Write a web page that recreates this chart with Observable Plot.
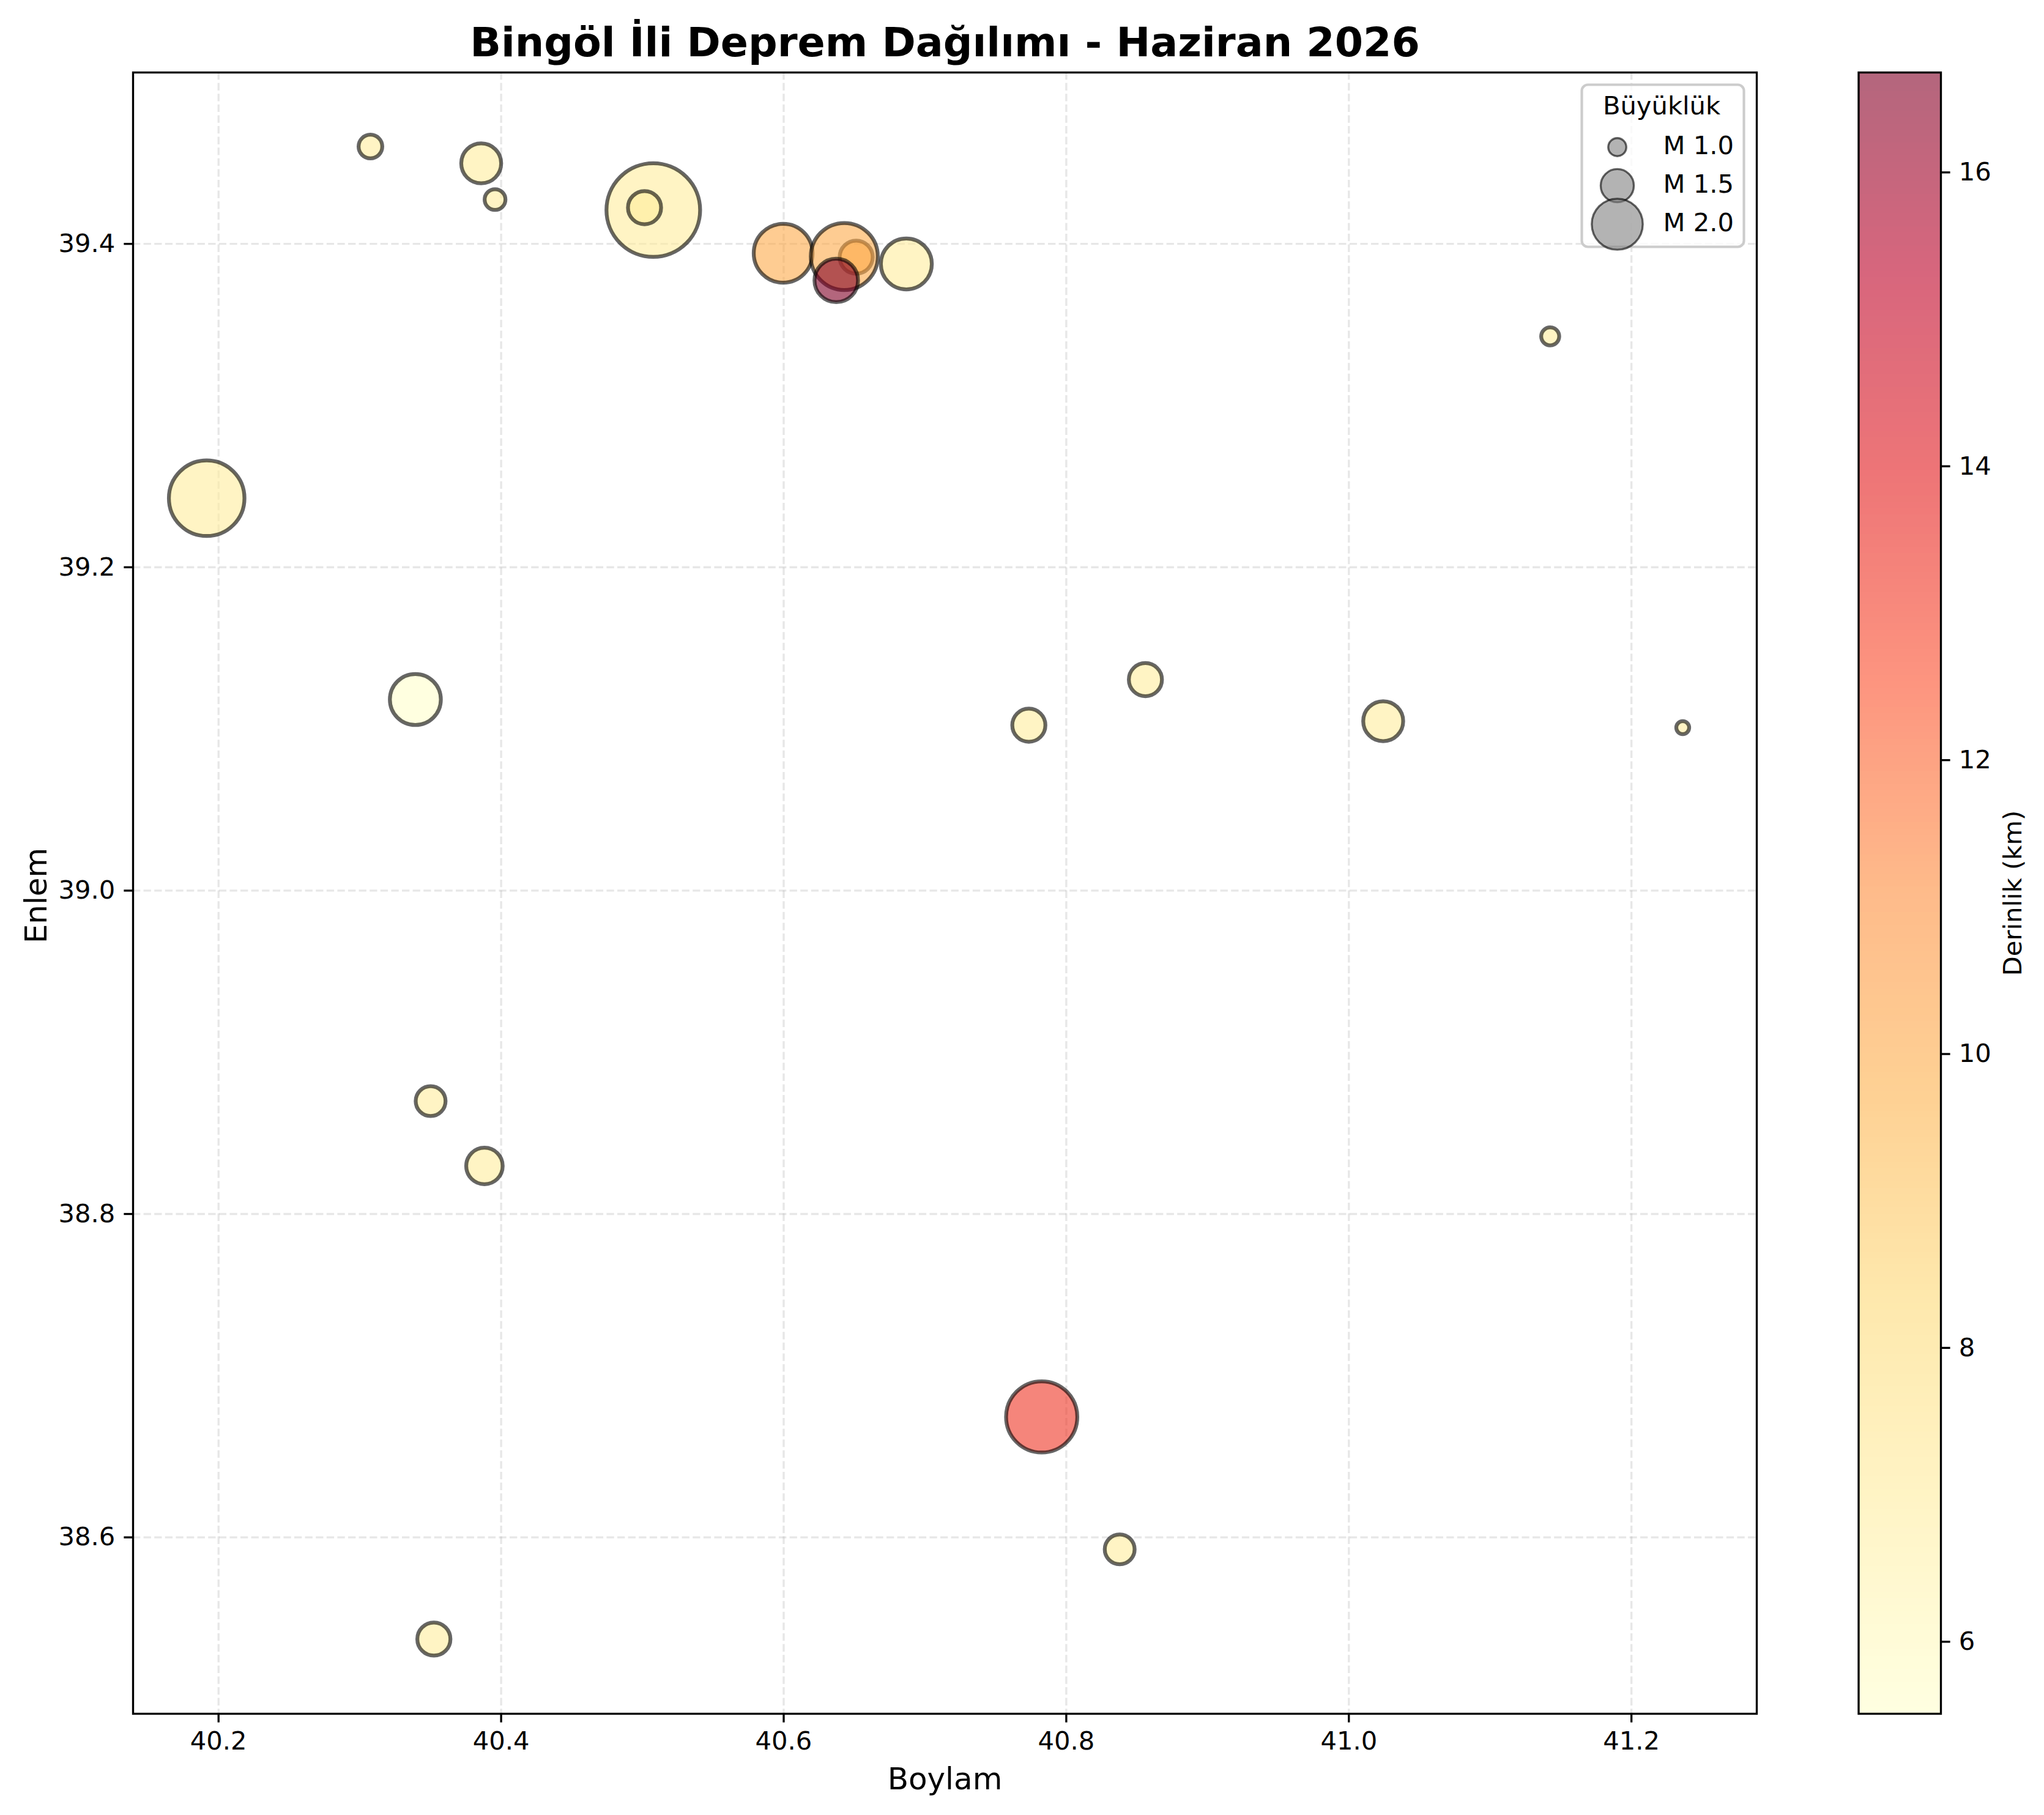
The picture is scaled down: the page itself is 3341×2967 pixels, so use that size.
<!DOCTYPE html>
<html><head><meta charset="utf-8">
<script src="https://cdn.jsdelivr.net/npm/d3@7"></script>
<script src="https://cdn.jsdelivr.net/npm/@observablehq/plot@0.6"></script>
<style>html,body{margin:0;background:#fff}#c{position:relative;width:3341px;height:2967px;overflow:hidden}#c>svg{position:absolute;overflow:visible}</style>
</head><body><div id="c"></div>
<script>
const titleText = "Bingöl İli Deprem Dağılımı - Haziran 2026";
const lon = [40.3075,40.3859,40.3957,40.5077,40.5015,40.5996,40.6513,40.6429,40.6372,40.6868,41.1425,40.1916,40.3393,40.856,40.7735,41.0243,41.2363,40.3501,40.3882,40.7826,40.8378,40.3524];
const lat = [39.4602,39.4498,39.4274,39.4209,39.4224,39.3942,39.3918,39.3922,39.3774,39.3876,39.3428,39.2427,39.1182,39.1305,39.1023,39.1048,39.1008,38.8698,38.8297,38.6745,38.5926,38.5371];
const mag = [1.2,1.7,1.1,3.0,1.5,2.2,1.5,2.4,1.8,2.0,1.0,2.6,2.0,1.5,1.5,1.7,0.8,1.4,1.6,2.5,1.4,1.5];
const depth = [7,7,7,7,7,10,10,10,16.68,7,7,7,5.51,7,7,7,7,7,7,13.2,7,7];
const xTicks = [40.2,40.4,40.6,40.8,41.0,41.2];
const yTicks = [38.6,38.8,39.0,39.2,39.4];
const cTicks = [6,8,10,12,14,16];
const legendMags = [1.0,1.5,2.0];
const ylorrd = ["#ffffcc","#ffeda0","#fed976","#feb24c","#fd8d3c","#fc4e2a","#e31a1c","#bd0026","#800026"];
const cMin = 5.51, cMax = 16.68;

const font = "DejaVu Sans";
const colorScale = {type:"linear", domain: ylorrd.map((_,i)=>cMin+i*(cMax-cMin)/8), range: ylorrd, interpolate:"rgb"};
const rScale = {type:"pow", exponent:1.5, domain:[0,4], range:[0,117.84]};
const rows = lon.map((x,i)=>({x, y:lat[i], m:mag[i], d:depth[i]}));
const W = 3341, H = 2967;
const base = {width:W, height:H, marginLeft:217, marginRight:470, marginTop:118, marginBottom:166, style:{background:"transparent", fontFamily:font}};
const grid = {stroke:"#b0b0b0", strokeOpacity:0.3, strokeWidth:3.33, strokeDasharray:"12.3,5.3"};

const main = Plot.plot({...base,
  x:{domain:[40.1395,41.2887]}, y:{domain:[38.4909,39.506]},
  color:colorScale, r:rScale,
  marks:[
    Plot.gridX(xTicks,grid), Plot.gridY(yTicks,grid),
    Plot.dot(rows,{x:"x",y:"y",r:"m",fill:"d",fillOpacity:0.6,stroke:"#000",strokeOpacity:0.6,strokeWidth:6.25,sort:null}),
    Plot.frame({stroke:"#000",strokeWidth:3.33}),
    Plot.axisX(xTicks,{tickSize:14.6,tickPadding:14.6,strokeWidth:3.33,fontSize:41.67,tickFormat:d3.format(".1f"),label:null}),
    Plot.axisY(yTicks,{tickSize:14.6,tickPadding:14.6,strokeWidth:3.33,fontSize:41.67,tickFormat:d3.format(".1f"),label:null}),
    Plot.text(["Boylam"],{frameAnchor:"bottom",dy:123,fontSize:50,text:d=>d,fill:"#000"}),
    Plot.text(["Enlem"],{frameAnchor:"left",dx:-158,dy:4,rotate:-90,textAnchor:"middle",fontSize:50,text:d=>d,fill:"#000"}),
    Plot.text([titleText],{frameAnchor:"top",dy:-74,fontSize:66.67,fontWeight:"bold",text:d=>d,fill:"#000"})
  ]});
document.getElementById("c").append(main);

const steps = d3.range(256).map(i=>cMin+i*(cMax-cMin)/256);
const cbar = Plot.plot({width:W,height:H,marginLeft:3037.5,marginRight:169,marginTop:118,marginBottom:166,style:{background:"transparent",fontFamily:font},
  y:{domain:[cMin,cMax]}, color:colorScale,
  marks:[
    Plot.rect(steps,{y1:d=>d,y2:d=>d+(cMax-cMin)/256,fill:d=>d,fillOpacity:0.6,shapeRendering:"crispEdges"}),
    Plot.frame({stroke:"#000",strokeWidth:3.33}),
    Plot.axisY(cTicks,{anchor:"right",tickSize:14.6,tickPadding:14.6,strokeWidth:3.33,fontSize:41.67,tickFormat:d3.format("d"),label:null}),
    Plot.text(["Derinlik (km)"],{frameAnchor:"right",dx:118,rotate:-90,textAnchor:"middle",fontSize:41.67,text:d=>d,fill:"#000"})
  ]});
cbar.style.left="0";cbar.style.top="0";
document.getElementById("c").append(cbar);

const leg = Plot.plot({width:265,height:265,margin:0,style:{background:"transparent",fontFamily:font,overflow:"visible"},
  y:{domain:[1,2],range:[102,228],axis:null}, x:{axis:null}, r:rScale,
  marks:[
    Plot.frame({stroke:"#ccc",strokeWidth:4.17,fill:"#fff",fillOpacity:0.8,rx:10}),
    Plot.dot(legendMags,{y:d=>d,r:d=>d,frameAnchor:"left",dx:58,fill:"#808080",fillOpacity:0.6,stroke:"#000",strokeOpacity:0.6,strokeWidth:3.33,sort:null}),
    Plot.text(legendMags,{y:d=>d,frameAnchor:"left",dx:133,dy:-2,textAnchor:"start",fontSize:41.67,fill:"#000",text:d=>"M "+d.toFixed(1)}),
    Plot.text(["Büyüklük"],{frameAnchor:"top",dy:19,dx:-2,lineAnchor:"top",fontSize:41.67,fill:"#000",text:d=>d})
  ]});
leg.style.left="2585px";leg.style.top="138px";
document.getElementById("c").append(leg);
</script></body></html>
